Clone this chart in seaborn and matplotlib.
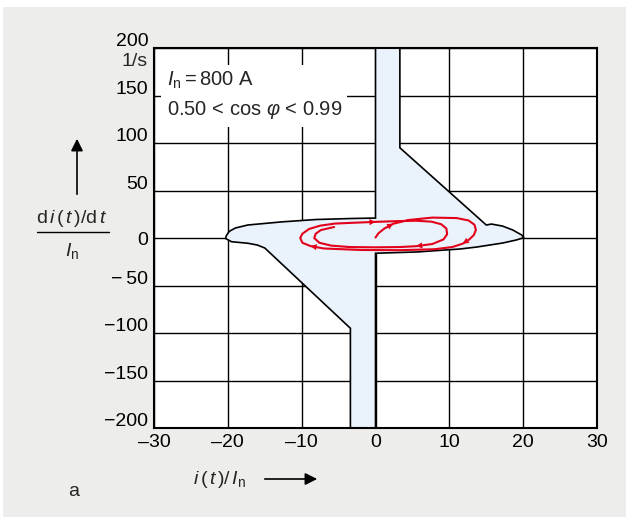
"""
plot.py
Current trajectory di/dt vs i in the detection window of a breaker.
"""

import matplotlib.pyplot as plt
import matplotlib.transforms as mtransforms
import seaborn as sns
from matplotlib.patches import Polygon, Rectangle

# ---- data ----
# outline of the release window (shaded area)
window_x = [0.0, 3.3, 3.3, 15.0, 15.7, 17.2, 18.6, 19.8, 20.1, 19.1, 17.2, 13.7,
            11.4, 10.0, 5.6, 0.0, 0.0, -3.4, -3.4, -15.0, -16.0, -17.3, -19.5,
            -20.3, -20.2, -19.8, -19.0, -17.3, -12.7, -8.0, -3.0, 0.0]
window_y = [200, 200, 95, 13.7, 14.7, 12.6, 8.4, 3.2, 0.5, -2.0, -5.3, -9.5,
            -11.6, -12.3, -14.7, -16.0, -200, -200, -95, -10.5, -7.4, -5.5, -3.9,
            -0.5, 2.5, 7.0, 10.5, 13.7, 17.0, 19.5, 20.6, 21.0]

# measured current trajectory (red)
traj_x = [0.0, 0.4, 1.2, 2.4, 4.5, 7.7, 11.0, 12.6, 13.4, 13.6, 13.3, 12.7,
          11.8, 10.4, 8.0, 3.3, -2.0, -7.0, -8.8, -9.9, -10.2, -9.9, -9.0,
          -7.5, -5.5, -3.2, 0.0, 3.0, 5.5, 7.6, 8.9, 9.6, 9.7, 9.2, 7.7,
          5.5, 3.3, 0.0, -3.5, -6.0, -7.6, -8.3, -8.1, -7.4, -5.6]
traj_y = [0.5, 5.0, 10.0, 15.0, 19.0, 21.5, 21.0, 18.5, 14.0, 8.5, 3.0, -1.5,
          -6.0, -9.5, -11.8, -12.8, -12.6, -11.0, -8.5, -5.0, 0.0, 4.5, 9.5,
          13.0, 15.2, 16.0, 17.0, 17.8, 18.2, 17.2, 14.5, 10.0, 4.0, -1.5, -6.3,
          -8.6, -9.5, -9.8, -9.5, -8.0, -5.0, 0.0, 4.5, 8.4, 11.6]
arrow_idx = [2, 11, 17, 25, 34]

x_ticks = [-30, -20, -10, 0, 10, 20, 30]
y_ticks = [-200, -150, -100, -50, 0, 50, 100, 150, 200]
y_labels = ['\u2212200', '\u2212150', '\u2212100', '\u2212\u200950', '0',
            '50', '100', '150', '200']
x_labels = ['\u201330', '\u201320', '\u201310', '0', '10', '20', '30']

RED = '#e2001a'
FILL = '#eaf3fc'
BG = '#edeeeb'

sns.set_theme(style='white')
plt.rcParams['font.family'] = ['Liberation Sans', 'DejaVu Sans']
plt.rcParams['mathtext.fontset'] = 'custom'
plt.rcParams['mathtext.rm'] = 'Liberation Sans'
plt.rcParams['mathtext.it'] = 'Liberation Sans:italic'

FS = 14

fig = plt.figure(figsize=(6.26, 5.18), dpi=100)
fig.patch.set_facecolor('white')
fig.patches.append(Rectangle((0.005, 0.002), 0.995, 0.9845, transform=fig.transFigure,
                             facecolor=BG, edgecolor='none', zorder=-10))

ax = fig.add_axes([0.246, 0.1737, 0.7077, 0.7336])
ax.set_facecolor('white')

# shaded window
ax.add_patch(Polygon(list(zip(window_x, window_y)), closed=True,
                     facecolor=FILL, edgecolor='black', lw=1.2, zorder=2))

# trajectory (raw order, no aggregation)
sns.lineplot(x=traj_x, y=traj_y, sort=False, estimator=None, color=RED, lw=1.5,
             ax=ax, zorder=4)
for i in arrow_idx:
    ax.annotate('', xy=(traj_x[i + 1], traj_y[i + 1]), xytext=(traj_x[i], traj_y[i]),
                arrowprops=dict(arrowstyle='-|>', color=RED, lw=0,
                                mutation_scale=11, shrinkA=0, shrinkB=0),
                zorder=5)

ax.set_xlim(-30, 30)
ax.set_ylim(-200, 200)
ax.set_xticks(x_ticks)
ax.set_xticklabels(x_labels, fontsize=FS)
ax.set_yticks(y_ticks)
ax.set_yticklabels(y_labels, fontsize=FS)
ax.tick_params(length=0, pad=4, colors='black')
# y labels sit a little above their grid line in the original (except 0)
shift = mtransforms.ScaledTranslation(0, 6 / 72, fig.dpi_scale_trans)
for lab in ax.get_yticklabels():
    if lab.get_text() != '0':
        lab.set_transform(lab.get_transform() + shift)
ax.grid(True, color='black', lw=1)
ax.set_axisbelow(True)
for s in ax.spines.values():
    s.set_color('black')
    s.set_linewidth(1.5)

# note box
ax.text(-28.3, 150, '$I_\\mathrm{n}$$=$800 A\n0.50 < cos $\\varphi$ < 0.99',
        fontsize=14.5, va='center', ha='left', linespacing=1.5, zorder=6,
        bbox=dict(facecolor='white', edgecolor='none', pad=4))

# unit
fig.text(148 / 626, 1 - 62 / 518, '1/s', fontsize=FS, ha='right', va='center')

# y label as fraction with arrow
fig.text(72 / 626, 1 - 219 / 518, 'd$\\,i\\,$($\\,t\\,$)/d$\\,t$', fontsize=FS,
         ha='center', va='center')
fig.add_artist(plt.Line2D([37 / 626, 109 / 626], [1 - 232 / 518, 1 - 232 / 518],
                          color='black', lw=1))
fig.text(72 / 626, 1 - 251 / 518, '$I_\\mathrm{n}$', fontsize=FS, ha='center', va='center')
ax.annotate('', xy=(77 / 626, 1 - 136 / 518), xytext=(77 / 626, 1 - 197 / 518),
            xycoords='figure fraction',
            arrowprops=dict(arrowstyle='-|>', color='black', lw=1.2, mutation_scale=18))

# x label with arrow
fig.text(193 / 626, 1 - 479 / 518, '$i\\,$($\\,t\\,$)/$\\,I_\\mathrm{n}$', fontsize=FS,
         ha='left', va='center')
ax.annotate('', xy=(320 / 626, 1 - 479 / 518), xytext=(262 / 626, 1 - 479 / 518),
            xycoords='figure fraction',
            arrowprops=dict(arrowstyle='-|>', color='black', lw=1.2, mutation_scale=18))

fig.text(68 / 626, 1 - 492 / 518, 'a', fontsize=FS, ha='left', va='center')

plt.savefig('out.png', dpi=100, facecolor=fig.get_facecolor())
